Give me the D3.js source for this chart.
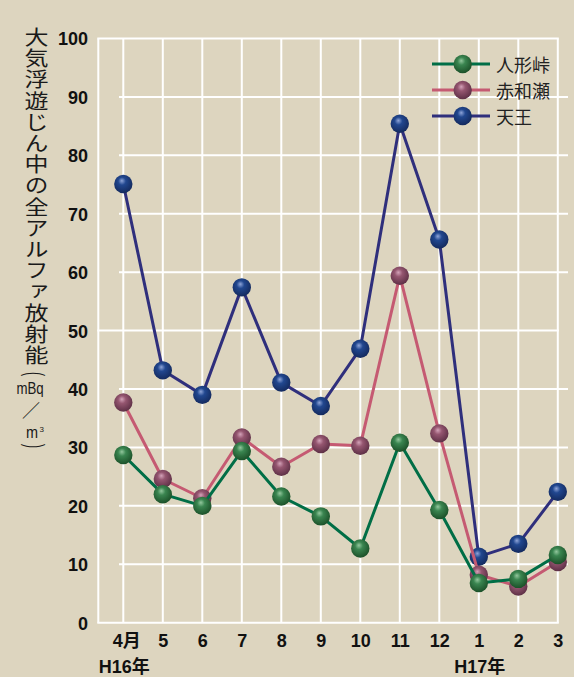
<!DOCTYPE html>
<html>
<head>
<meta charset="utf-8">
<script src="https://cdn.jsdelivr.net/npm/d3@7/dist/d3.min.js"></script>
<style>
  html, body { margin: 0; padding: 0; background: #ddd5bf; }
  svg { display: block; }
  .vert { writing-mode: vertical-rl; text-orientation: upright; }
</style>
</head>
<body>
<svg id="chart" width="574" height="677"></svg>
<script>
// Monthly values (mBq/m³), April H16 to March H17
const months = ["4月", "5", "6", "7", "8", "9", "10", "11", "12", "1", "2", "3"];
const yearLabels = [{ label: "H16年", index: 0 }, { label: "H17年", index: 9 }];
const ningyotoge = [28.7, 22.0, 20.0, 29.4, 21.6, 18.2, 12.7, 30.8, 19.3, 6.8, 7.5, 11.6];
const akawase = [37.7, 24.6, 21.3, 31.7, 26.7, 30.6, 30.3, 59.4, 32.4, 8.2, 6.2, 10.4];
const tenno = [75.1, 43.2, 39.0, 57.4, 41.1, 37.1, 46.9, 85.4, 65.6, 11.3, 13.5, 22.4];
const yTicks = [0, 10, 20, 30, 40, 50, 60, 70, 80, 90, 100];
const seriesNames = ["人形峠", "赤和瀬", "天王"];
const axisTitle = "大気浮遊じん中の全アルファ放射能";
const axisUnit = ["mBq", "／", "m", "3"];

const series = [
  { name: seriesNames[2], values: tenno, line: "#2f2f7c", base: "#21478f", light: "#8ea4d8", dark: "#142a5e" },
  { name: seriesNames[1], values: akawase, line: "#c55a72", base: "#955670", light: "#d3a2b8", dark: "#5e3046" },
  { name: seriesNames[0], values: ningyotoge, line: "#006e46", base: "#3a8550", light: "#93c79d", dark: "#1c5129" }
];

const svg = d3.select("#chart");
const W = 574, H = 677;
svg.append("rect").attr("width", W).attr("height", H).attr("fill", "#ddd5bf");

const x = d3.scaleLinear().domain([0, months.length - 1]).range([123.3, 557.8]);
const y = d3.scaleLinear().domain([0, 100]).range([622.7, 38.5]);
const left = x(-0.633);
const right = x(months.length - 1);

// sphere gradients
const defs = svg.append("defs");
series.forEach((s, i) => {
  const g = defs.append("radialGradient").attr("id", "ball" + i)
    .attr("cx", "0.45").attr("cy", "0.4").attr("r", "0.6").attr("fx", "0.42").attr("fy", "0.32");
  g.append("stop").attr("offset", "0%").attr("stop-color", s.light);
  g.append("stop").attr("offset", "35%").attr("stop-color", s.base);
  g.append("stop").attr("offset", "100%").attr("stop-color", s.dark);
});

// grid
const grid = svg.append("g").attr("stroke", "#ffffff").attr("stroke-width", 2).attr("fill", "none");
yTicks.filter(v => v % 50 !== 0).forEach(v => {
  grid.append("line").attr("x1", 119).attr("x2", 568).attr("y1", y(v)).attr("y2", y(v));
});
yTicks.filter(v => v % 50 === 0).forEach(v => {
  grid.append("line").attr("x1", left - 1).attr("x2", right + 1).attr("y1", y(v)).attr("y2", y(v));
});
grid.append("line").attr("x1", left).attr("x2", left).attr("y1", y(100)).attr("y2", y(0));
months.forEach((m, i) => {
  grid.append("line").attr("x1", x(i)).attr("x2", x(i)).attr("y1", y(100)).attr("y2", y(0));
});

// y tick labels
const yAxis = d3.axisLeft(y).tickValues(yTicks).tickSize(0).tickPadding(0);
const ya = svg.append("g").attr("transform", `translate(88,0)`).call(yAxis);
ya.select(".domain").remove();
ya.selectAll("text")
  .attr("font-family", "'Liberation Sans', Arial, sans-serif")
  .attr("font-weight", "bold").attr("font-size", 18).attr("fill", "#111")
  .attr("dy", "0.36em");

// x tick labels
const xAxis = d3.axisBottom(x).tickValues(d3.range(months.length)).tickFormat(i => months[i]).tickSize(0).tickPadding(0);
const xa = svg.append("g").attr("transform", `translate(0,647)`).call(xAxis);
xa.select(".domain").remove();
xa.selectAll("text")
  .attr("font-family", "'Liberation Sans', 'Noto Sans CJK JP', sans-serif")
  .attr("font-weight", "bold").attr("font-size", 18).attr("fill", "#111")
  .attr("dy", 0).attr("dx", (d, i) => i === 0 ? 3 : 0);

svg.append("g").selectAll("text").data(yearLabels).join("text")
  .attr("x", d => x(d.index) + 1).attr("y", 673)
  .attr("text-anchor", "middle")
  .attr("font-family", "'Liberation Sans', 'Noto Sans CJK JP', sans-serif")
  .attr("font-weight", "bold").attr("font-size", 18).attr("fill", "#111")
  .text(d => d.label);

// vertical axis title, set top to bottom
const title = svg.append("g").attr("fill", "#1a1a1a").attr("font-family", "'Noto Sans CJK JP', sans-serif");
title.append("text").attr("class", "vert")
  .attr("x", 36.5).attr("y", 27.5)
  .attr("transform", "translate(36.5,0) scale(1.2,1) translate(-36.5,0)")
  .attr("font-size", 20).attr("letter-spacing", 1.2)
  .text(axisTitle);
// opening bracket, drawn as a turned parenthesis
title.append("text")
  .attr("text-anchor", "middle").attr("dominant-baseline", "central")
  .attr("font-family", "'Liberation Sans', Arial, sans-serif").attr("font-size", 22)
  .attr("transform", "translate(34.5,374) rotate(90) scale(0.55,1.15)")
  .text("(");
title.append("text")
  .attr("transform", "translate(30,394) scale(0.78,1)")
  .attr("text-anchor", "middle")
  .attr("font-family", "'Liberation Sans', Arial, sans-serif").attr("font-size", 17)
  .text(axisUnit[0]);
title.append("text")
  .attr("transform", "translate(31,409)")
  .attr("text-anchor", "middle").attr("dominant-baseline", "central")
  .attr("font-size", 18).text(axisUnit[1]);
title.append("text")
  .attr("transform", "translate(32,437.5) scale(0.85,1)")
  .attr("text-anchor", "middle")
  .attr("font-family", "'Liberation Sans', Arial, sans-serif").attr("font-size", 17)
  .text(axisUnit[2]);
title.append("text").attr("x", 39.5).attr("y", 432)
  .attr("font-family", "'Liberation Sans', Arial, sans-serif").attr("font-size", 8).text(axisUnit[3]);
// closing bracket
title.append("text")
  .attr("text-anchor", "middle").attr("dominant-baseline", "central")
  .attr("font-family", "'Liberation Sans', Arial, sans-serif").attr("font-size", 22)
  .attr("transform", "translate(34.5,446) rotate(90) scale(0.55,1.15)")
  .text(")");

// series lines and markers
const line = d3.line().x((d, i) => x(i)).y(d => y(d));
series.forEach((s, si) => {
  const g = svg.append("g");
  g.append("path").datum(s.values).attr("d", line)
    .attr("fill", "none").attr("stroke", s.line).attr("stroke-width", 3).attr("stroke-linejoin", "round");
  g.selectAll("circle").data(s.values).join("circle")
    .attr("cx", (d, i) => x(i)).attr("cy", d => y(d)).attr("r", 9.2)
    .attr("fill", `url(#ball${si})`);
});

// legend
const legendOrder = [2, 1, 0];
const legend = svg.append("g");
legendOrder.forEach((si, row) => {
  const s = series[si];
  const ly = 64 + row * 26;
  legend.append("line").attr("x1", 432).attr("x2", 490).attr("y1", ly).attr("y2", ly)
    .attr("stroke", s.line).attr("stroke-width", 3);
  legend.append("circle").attr("cx", 462.7).attr("cy", ly).attr("r", 9.2).attr("fill", `url(#ball${si})`);
  legend.append("text").attr("x", 496).attr("y", ly).attr("dominant-baseline", "central")
    .attr("font-family", "'Noto Sans CJK JP', sans-serif").attr("font-size", 18).attr("fill", "#222")
    .text(s.name);
});
</script>
</body>
</html>
